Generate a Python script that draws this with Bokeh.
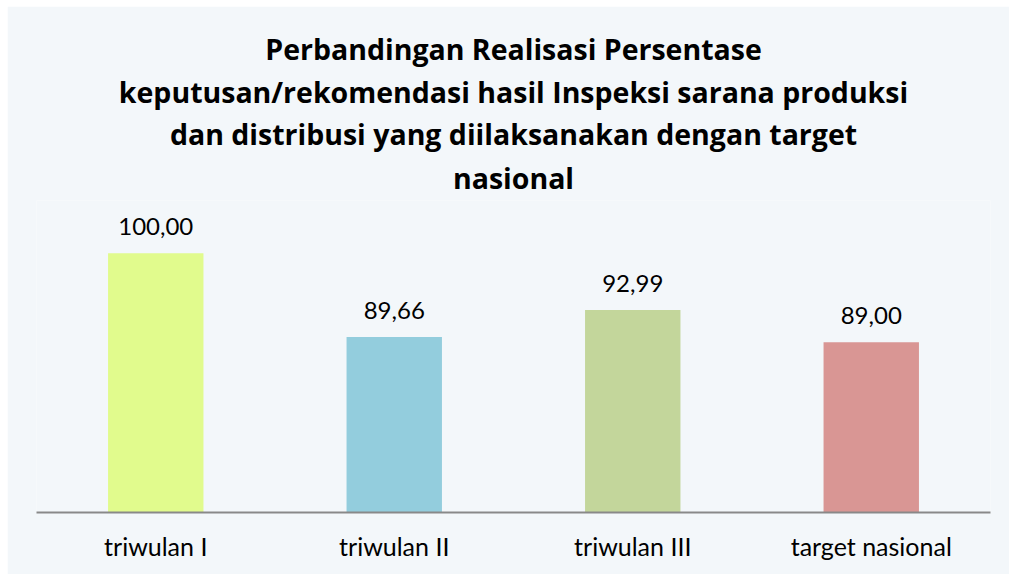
from bokeh.plotting import figure
from bokeh.models import Range1d, ColumnDataSource, Title, Spacer
from bokeh.layouts import column, row
from bokeh.core.properties import value
from bokeh.embed import file_html
from bokeh.resources import INLINE

categories = ["triwulan I", "triwulan II", "triwulan III", "target nasional"]
values = [100.00, 89.66, 92.99, 89.00]
colors = ["#E1FB8D", "#93CDDD", "#C3D69B", "#D99694"]
title_lines = [
    "Perbandingan Realisasi Persentase",
    "keputusan/rekomendasi hasil Inspeksi sarana produksi",
    "dan distribusi yang diilaksanakan dengan target",
    "nasional",
]
labels = [f"{v:.2f}".replace(".", ",") for v in values]

BG = "#F3F7FA"
FONT = "Lato"
TFONT = "Open Sans"

src = ColumnDataSource(dict(cat=categories, val=values, color=colors, label=labels))

p = figure(
    width=1002, height=568,
    x_range=categories, y_range=Range1d(68, 106.5),
    output_backend="svg", toolbar_location=None,
    min_border_left=29, min_border_right=19, min_border_bottom=62, min_border_top=194,
)
p.title.visible = False
standoffs = [4, 2, 2, 7]
for line, so in reversed(list(zip(title_lines, standoffs))):
    p.add_layout(Title(text=line, align="center", text_font=TFONT, text_font_size="28.5px",
                       text_font_style="bold", text_color="#000000", standoff=so), "above")
p.background_fill_color = BG
p.border_fill_color = BG
p.outline_line_color = None
p.xgrid.visible = False
p.ygrid.visible = False
p.yaxis.visible = False

p.vbar(x="cat", top="val", bottom=0, width=0.4, fill_color="color", line_color=None, source=src)
p.text(x="cat", y="val", text="label", source=src, text_align="center", text_baseline="bottom",
       y_offset=-18, text_font=value(FONT), text_font_size="24px", text_color="#000000")

ax = p.xaxis[0]
ax.axis_line_color = "#898989"
ax.axis_line_width = 2
ax.major_tick_line_color = None
ax.minor_tick_line_color = None
ax.major_label_text_font = FONT
ax.major_label_text_font_size = "25px"
ax.major_label_text_color = "#000000"
ax.major_label_standoff = 12
p.x_range.range_padding = 0

layout = column(Spacer(height=6), row(Spacer(width=7), p))
open("out.html", "w").write(file_html(layout, INLINE))
